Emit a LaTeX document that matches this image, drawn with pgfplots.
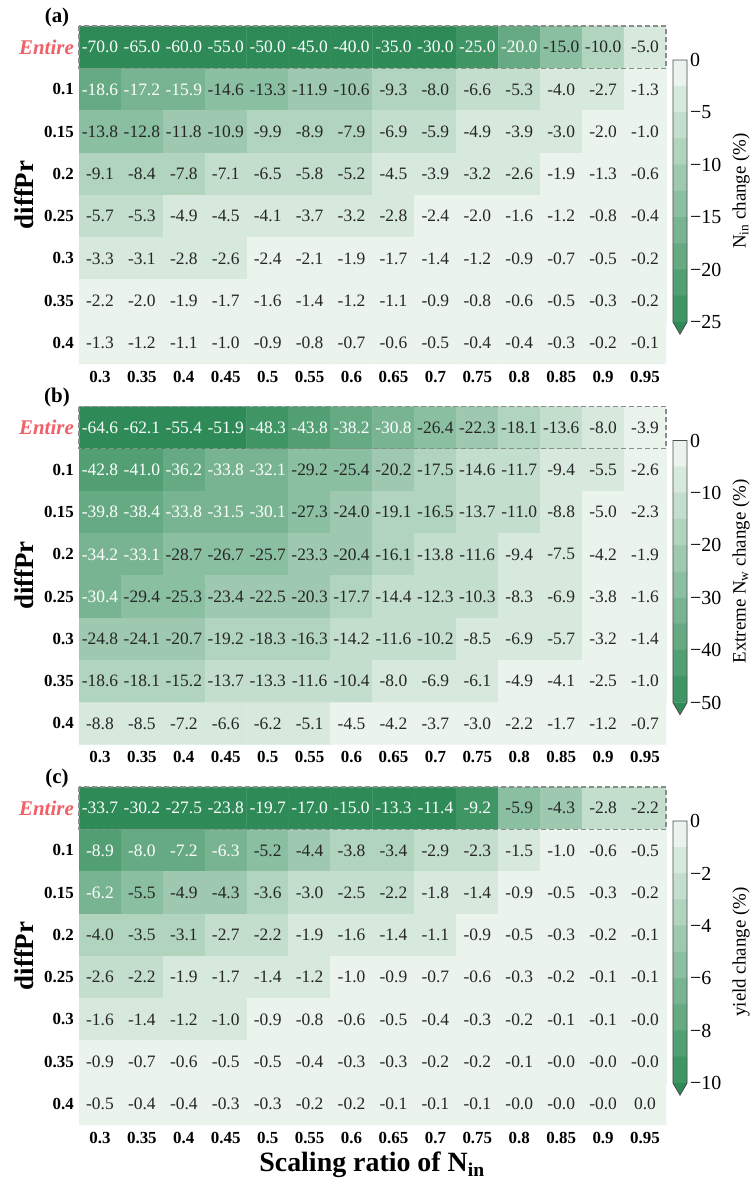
\documentclass[border=0pt]{standalone}
\usepackage{pgfplots}
\pgfplotsset{compat=1.18}
\usepackage{pgfplotstable}
\usepackage{fontspec}
\setmainfont{Liberation Serif}
\definecolor{sglight}{RGB}{234,243,236}
\definecolor{sgdark}{RGB}{46,139,87}
\definecolor{entire}{RGB}{240,96,104}
\definecolor{txtdark}{RGB}{38,38,38}
\newcommand\cellfont{\fontsize{17.5}{20}\selectfont}

% v = value as printed in the cell
\pgfplotstableread[row sep=\\]{
x y v\\
0 0 -70.0\\ 1 0 -65.0\\ 2 0 -60.0\\ 3 0 -55.0\\ 4 0 -50.0\\ 5 0 -45.0\\ 6 0 -40.0\\ 7 0 -35.0\\ 8 0 -30.0\\ 9 0 -25.0\\ 10 0 -20.0\\ 11 0 -15.0\\ 12 0 -10.0\\ 13 0 -5.0\\
0 1 -18.6\\ 1 1 -17.2\\ 2 1 -15.9\\ 3 1 -14.6\\ 4 1 -13.3\\ 5 1 -11.9\\ 6 1 -10.6\\ 7 1 -9.3\\ 8 1 -8.0\\ 9 1 -6.6\\ 10 1 -5.3\\ 11 1 -4.0\\ 12 1 -2.7\\ 13 1 -1.3\\
0 2 -13.8\\ 1 2 -12.8\\ 2 2 -11.8\\ 3 2 -10.9\\ 4 2 -9.9\\ 5 2 -8.9\\ 6 2 -7.9\\ 7 2 -6.9\\ 8 2 -5.9\\ 9 2 -4.9\\ 10 2 -3.9\\ 11 2 -3.0\\ 12 2 -2.0\\ 13 2 -1.0\\
0 3 -9.1\\ 1 3 -8.4\\ 2 3 -7.8\\ 3 3 -7.1\\ 4 3 -6.5\\ 5 3 -5.8\\ 6 3 -5.2\\ 7 3 -4.5\\ 8 3 -3.9\\ 9 3 -3.2\\ 10 3 -2.6\\ 11 3 -1.9\\ 12 3 -1.3\\ 13 3 -0.6\\
0 4 -5.7\\ 1 4 -5.3\\ 2 4 -4.9\\ 3 4 -4.5\\ 4 4 -4.1\\ 5 4 -3.7\\ 6 4 -3.2\\ 7 4 -2.8\\ 8 4 -2.4\\ 9 4 -2.0\\ 10 4 -1.6\\ 11 4 -1.2\\ 12 4 -0.8\\ 13 4 -0.4\\
0 5 -3.3\\ 1 5 -3.1\\ 2 5 -2.8\\ 3 5 -2.6\\ 4 5 -2.4\\ 5 5 -2.1\\ 6 5 -1.9\\ 7 5 -1.7\\ 8 5 -1.4\\ 9 5 -1.2\\ 10 5 -0.9\\ 11 5 -0.7\\ 12 5 -0.5\\ 13 5 -0.2\\
0 6 -2.2\\ 1 6 -2.0\\ 2 6 -1.9\\ 3 6 -1.7\\ 4 6 -1.6\\ 5 6 -1.4\\ 6 6 -1.2\\ 7 6 -1.1\\ 8 6 -0.9\\ 9 6 -0.8\\ 10 6 -0.6\\ 11 6 -0.5\\ 12 6 -0.3\\ 13 6 -0.2\\
0 7 -1.3\\ 1 7 -1.2\\ 2 7 -1.1\\ 3 7 -1.0\\ 4 7 -0.9\\ 5 7 -0.8\\ 6 7 -0.7\\ 7 7 -0.6\\ 8 7 -0.5\\ 9 7 -0.4\\ 10 7 -0.4\\ 11 7 -0.3\\ 12 7 -0.2\\ 13 7 -0.1\\
}\dataA

\pgfplotstableread[row sep=\\]{
x y v\\
0 0 -64.6\\ 1 0 -62.1\\ 2 0 -55.4\\ 3 0 -51.9\\ 4 0 -48.3\\ 5 0 -43.8\\ 6 0 -38.2\\ 7 0 -30.8\\ 8 0 -26.4\\ 9 0 -22.3\\ 10 0 -18.1\\ 11 0 -13.6\\ 12 0 -8.0\\ 13 0 -3.9\\
0 1 -42.8\\ 1 1 -41.0\\ 2 1 -36.2\\ 3 1 -33.8\\ 4 1 -32.1\\ 5 1 -29.2\\ 6 1 -25.4\\ 7 1 -20.2\\ 8 1 -17.5\\ 9 1 -14.6\\ 10 1 -11.7\\ 11 1 -9.4\\ 12 1 -5.5\\ 13 1 -2.6\\
0 2 -39.8\\ 1 2 -38.4\\ 2 2 -33.8\\ 3 2 -31.5\\ 4 2 -30.1\\ 5 2 -27.3\\ 6 2 -24.0\\ 7 2 -19.1\\ 8 2 -16.5\\ 9 2 -13.7\\ 10 2 -11.0\\ 11 2 -8.8\\ 12 2 -5.0\\ 13 2 -2.3\\
0 3 -34.2\\ 1 3 -33.1\\ 2 3 -28.7\\ 3 3 -26.7\\ 4 3 -25.7\\ 5 3 -23.3\\ 6 3 -20.4\\ 7 3 -16.1\\ 8 3 -13.8\\ 9 3 -11.6\\ 10 3 -9.4\\ 11 3 -7.5\\ 12 3 -4.2\\ 13 3 -1.9\\
0 4 -30.4\\ 1 4 -29.4\\ 2 4 -25.3\\ 3 4 -23.4\\ 4 4 -22.5\\ 5 4 -20.3\\ 6 4 -17.7\\ 7 4 -14.4\\ 8 4 -12.3\\ 9 4 -10.3\\ 10 4 -8.3\\ 11 4 -6.9\\ 12 4 -3.8\\ 13 4 -1.6\\
0 5 -24.8\\ 1 5 -24.1\\ 2 5 -20.7\\ 3 5 -19.2\\ 4 5 -18.3\\ 5 5 -16.3\\ 6 5 -14.2\\ 7 5 -11.6\\ 8 5 -10.2\\ 9 5 -8.5\\ 10 5 -6.9\\ 11 5 -5.7\\ 12 5 -3.2\\ 13 5 -1.4\\
0 6 -18.6\\ 1 6 -18.1\\ 2 6 -15.2\\ 3 6 -13.7\\ 4 6 -13.3\\ 5 6 -11.6\\ 6 6 -10.4\\ 7 6 -8.0\\ 8 6 -6.9\\ 9 6 -6.1\\ 10 6 -4.9\\ 11 6 -4.1\\ 12 6 -2.5\\ 13 6 -1.0\\
0 7 -8.8\\ 1 7 -8.5\\ 2 7 -7.2\\ 3 7 -6.6\\ 4 7 -6.2\\ 5 7 -5.1\\ 6 7 -4.5\\ 7 7 -4.2\\ 8 7 -3.7\\ 9 7 -3.0\\ 10 7 -2.2\\ 11 7 -1.7\\ 12 7 -1.2\\ 13 7 -0.7\\
}\dataB

% v = value as printed, c = value (differs only where rounding hides it)
\pgfplotstableread[row sep=\\]{
x y v c\\
0 0 -33.7 -33.7\\ 1 0 -30.2 -30.2\\ 2 0 -27.5 -27.5\\ 3 0 -23.8 -23.8\\ 4 0 -19.7 -19.7\\ 5 0 -17.0 -17.0\\ 6 0 -15.0 -15.0\\ 7 0 -13.3 -13.3\\ 8 0 -11.4 -11.4\\ 9 0 -9.2 -9.2\\ 10 0 -5.9 -5.9\\ 11 0 -4.3 -4.3\\ 12 0 -2.8 -2.8\\ 13 0 -2.2 -2.2\\
0 1 -8.9 -8.9\\ 1 1 -8.0 -8.0\\ 2 1 -7.2 -7.2\\ 3 1 -6.3 -6.3\\ 4 1 -5.2 -5.2\\ 5 1 -4.4 -4.4\\ 6 1 -3.8 -3.8\\ 7 1 -3.4 -3.4\\ 8 1 -2.9 -2.9\\ 9 1 -2.3 -2.3\\ 10 1 -1.5 -1.5\\ 11 1 -1.0 -1.0\\ 12 1 -0.6 -0.6\\ 13 1 -0.5 -0.5\\
0 2 -6.2 -6.2\\ 1 2 -5.5 -5.5\\ 2 2 -4.9 -4.9\\ 3 2 -4.3 -4.3\\ 4 2 -3.6 -3.6\\ 5 2 -3.0 -3.0\\ 6 2 -2.5 -2.5\\ 7 2 -2.2 -2.2\\ 8 2 -1.8 -1.8\\ 9 2 -1.4 -1.4\\ 10 2 -0.9 -0.9\\ 11 2 -0.5 -0.5\\ 12 2 -0.3 -0.3\\ 13 2 -0.2 -0.2\\
0 3 -4.0 -4.0\\ 1 3 -3.5 -3.5\\ 2 3 -3.1 -3.1\\ 3 3 -2.7 -2.7\\ 4 3 -2.2 -2.2\\ 5 3 -1.9 -1.9\\ 6 3 -1.6 -1.6\\ 7 3 -1.4 -1.4\\ 8 3 -1.1 -1.1\\ 9 3 -0.9 -0.9\\ 10 3 -0.5 -0.5\\ 11 3 -0.3 -0.3\\ 12 3 -0.2 -0.2\\ 13 3 -0.1 -0.1\\
0 4 -2.6 -2.6\\ 1 4 -2.2 -2.2\\ 2 4 -1.9 -1.9\\ 3 4 -1.7 -1.7\\ 4 4 -1.4 -1.4\\ 5 4 -1.2 -1.2\\ 6 4 -1.0 -1.0\\ 7 4 -0.9 -0.9\\ 8 4 -0.7 -0.7\\ 9 4 -0.6 -0.6\\ 10 4 -0.3 -0.3\\ 11 4 -0.2 -0.2\\ 12 4 -0.1 -0.1\\ 13 4 -0.1 -0.1\\
0 5 -1.6 -1.6\\ 1 5 -1.4 -1.4\\ 2 5 -1.2 -1.2\\ 3 5 -1.0 -1.02\\ 4 5 -0.9 -0.9\\ 5 5 -0.8 -0.8\\ 6 5 -0.6 -0.6\\ 7 5 -0.5 -0.5\\ 8 5 -0.4 -0.4\\ 9 5 -0.3 -0.3\\ 10 5 -0.2 -0.2\\ 11 5 -0.1 -0.1\\ 12 5 -0.1 -0.1\\ 13 5 -0.0 -0.0\\
0 6 -0.9 -0.9\\ 1 6 -0.7 -0.7\\ 2 6 -0.6 -0.6\\ 3 6 -0.5 -0.5\\ 4 6 -0.5 -0.5\\ 5 6 -0.4 -0.4\\ 6 6 -0.3 -0.3\\ 7 6 -0.3 -0.3\\ 8 6 -0.2 -0.2\\ 9 6 -0.2 -0.2\\ 10 6 -0.1 -0.1\\ 11 6 -0.0 -0.0\\ 12 6 -0.0 -0.0\\ 13 6 -0.0 -0.0\\
0 7 -0.5 -0.5\\ 1 7 -0.4 -0.4\\ 2 7 -0.4 -0.4\\ 3 7 -0.3 -0.3\\ 4 7 -0.3 -0.3\\ 5 7 -0.2 -0.2\\ 6 7 -0.2 -0.2\\ 7 7 -0.1 -0.1\\ 8 7 -0.1 -0.1\\ 9 7 -0.1 -0.1\\ 10 7 -0.0 -0.0\\ 11 7 -0.0 -0.0\\ 12 7 -0.0 -0.0\\ 13 7 0.0 0.0\\
}\dataC

\pgfplotsset{
  sgmap/.style={colormap={sg}{rgb255=(234,243,236) rgb255=(46,139,87)}, point meta min=0, point meta max=10},
  heat/.style={
    sgmap, scale only axis, width=587bp, height=338bp, anchor=south west,
    xmin=-0.5, xmax=13.5, ymin=-0.5, ymax=7.5, y dir=reverse,
    axis line style={draw=none}, major tick length=0pt, clip=false,
    xtick={0,...,13}, xticklabels={0.3,0.35,0.4,0.45,0.5,0.55,0.6,0.65,0.7,0.75,0.8,0.85,0.9,0.95},
    ytick={0,...,7},
    yticklabels={{\fontsize{21}{24}\selectfont\color{entire}\bfseries\itshape Entire},0.1,0.15,0.2,0.25,0.3,0.35,0.4},
    tick label style={font=\fontsize{17}{20}\selectfont\bfseries, inner sep=0pt},
    xticklabel style={anchor=north, yshift=-7bp},
    yticklabel style={anchor=east, xshift=-5bp},
  },
  cb/.style={
    sgmap, scale only axis, width=14bp, height=262bp, anchor=south west,
    xmin=0, xmax=1, clip=false, axis line style={draw=none}, xtick=\empty,
    major tick length=0pt, yticklabel pos=right,
    yticklabel style={font=\fontsize{20}{22}\selectfont, anchor=west, xshift=3bp, inner sep=0pt},
  },
}
% #1 table, #2 colour step, #3 column used for the colour band
\newcommand\heatplots[3]{%
  \addplot[matrix plot*, mesh/cols=14, point meta=explicit]
    table[x=x, y=y, meta expr={min(max(ceil(-1*(\thisrow{#3})/#2-0.001)-1,0),10)}] {#1};
  \addplot[draw=none, mark=none, point meta=explicit symbolic,
    nodes near coords={\pgfplotspointmeta}, nodes near coords align={center},
    every node near coord/.style={font=\cellfont, text=white, inner sep=0pt, anchor=center},
    restrict expr to domain={ceil(-1*(\thisrow{#3})/#2-0.001)-1}{6:1000}]
    table[x=x, y=y, meta=v] {#1};
  \addplot[draw=none, mark=none, point meta=explicit symbolic,
    nodes near coords={\pgfplotspointmeta}, nodes near coords align={center},
    every node near coord/.style={font=\cellfont, text=txtdark, inner sep=0pt, anchor=center},
    restrict expr to domain={ceil(-1*(\thisrow{#3})/#2-0.001)-1}{-1000:5.5}]
    table[x=x, y=y, meta=v] {#1};
  \draw[black!45, line width=1.3bp, dash pattern=on 5bp off 3bp] (axis cs:-0.5,-0.5) rectangle (axis cs:13.5,0.5);
}

\begin{document}
\begin{tikzpicture}
\useasboundingbox (0,0) rectangle (754bp,-1182bp);

% ---------- panel (a)
\begin{axis}[heat, at={(79bp,-364bp)}]
\heatplots{\dataA}{2.5}{v}
\end{axis}
\begin{axis}[cb, at={(673bp,-322bp)}, ymin=-25, ymax=0,
  ytick={0,-5,-10,-15,-20,-25}, yticklabels={0,−5,−10,−15,−20,−25}]
\addplot[matrix plot*, mesh/cols=2, point meta=explicit] table[row sep=\\, meta=j] {
x y j\\ 0.25 -1.25 0\\ 0.75 -1.25 0\\ 0.25 -3.75 1\\ 0.75 -3.75 1\\ 0.25 -6.25 2\\ 0.75 -6.25 2\\ 0.25 -8.75 3\\ 0.75 -8.75 3\\ 0.25 -11.25 4\\ 0.75 -11.25 4\\ 0.25 -13.75 5\\ 0.75 -13.75 5\\ 0.25 -16.25 6\\ 0.75 -16.25 6\\ 0.25 -18.75 7\\ 0.75 -18.75 7\\ 0.25 -21.25 8\\ 0.75 -21.25 8\\ 0.25 -23.75 9\\ 0.75 -23.75 9\\
};
\addplot[fill=sgdark, draw=none] coordinates {(0,-25) (1,-25) (0.5,-26.15)} -- cycle;
\draw[gray!60!black, line width=0.9bp] (axis cs:0,0) -- (axis cs:1,0) -- (axis cs:1,-25) -- (axis cs:0.5,-26.15) -- (axis cs:0,-25) -- cycle;
\end{axis}

% ---------- panel (b)
\begin{axis}[heat, at={(79bp,-744.5bp)}]
\heatplots{\dataB}{5}{v}
\end{axis}
\begin{axis}[cb, at={(673bp,-702.5bp)}, ymin=-50, ymax=0,
  ytick={0,-10,-20,-30,-40,-50}, yticklabels={0,−10,−20,−30,−40,−50}]
\addplot[matrix plot*, mesh/cols=2, point meta=explicit] table[row sep=\\, meta=j] {
x y j\\ 0.25 -2.5 0\\ 0.75 -2.5 0\\ 0.25 -7.5 1\\ 0.75 -7.5 1\\ 0.25 -12.5 2\\ 0.75 -12.5 2\\ 0.25 -17.5 3\\ 0.75 -17.5 3\\ 0.25 -22.5 4\\ 0.75 -22.5 4\\ 0.25 -27.5 5\\ 0.75 -27.5 5\\ 0.25 -32.5 6\\ 0.75 -32.5 6\\ 0.25 -37.5 7\\ 0.75 -37.5 7\\ 0.25 -42.5 8\\ 0.75 -42.5 8\\ 0.25 -47.5 9\\ 0.75 -47.5 9\\
};
\addplot[fill=sgdark, draw=none] coordinates {(0,-50) (1,-50) (0.5,-52.3)} -- cycle;
\draw[gray!60!black, line width=0.9bp] (axis cs:0,0) -- (axis cs:1,0) -- (axis cs:1,-50) -- (axis cs:0.5,-52.3) -- (axis cs:0,-50) -- cycle;
\end{axis}

% ---------- panel (c)
\begin{axis}[heat, at={(79bp,-1125bp)}]
\heatplots{\dataC}{1}{c}
\end{axis}
\begin{axis}[cb, at={(673bp,-1083bp)}, ymin=-10, ymax=0,
  ytick={0,-2,-4,-6,-8,-10}, yticklabels={0,−2,−4,−6,−8,−10}]
\addplot[matrix plot*, mesh/cols=2, point meta=explicit] table[row sep=\\, meta=j] {
x y j\\ 0.25 -0.5 0\\ 0.75 -0.5 0\\ 0.25 -1.5 1\\ 0.75 -1.5 1\\ 0.25 -2.5 2\\ 0.75 -2.5 2\\ 0.25 -3.5 3\\ 0.75 -3.5 3\\ 0.25 -4.5 4\\ 0.75 -4.5 4\\ 0.25 -5.5 5\\ 0.75 -5.5 5\\ 0.25 -6.5 6\\ 0.75 -6.5 6\\ 0.25 -7.5 7\\ 0.75 -7.5 7\\ 0.25 -8.5 8\\ 0.75 -8.5 8\\ 0.25 -9.5 9\\ 0.75 -9.5 9\\
};
\addplot[fill=sgdark, draw=none] coordinates {(0,-10) (1,-10) (0.5,-10.46)} -- cycle;
\draw[gray!60!black, line width=0.9bp] (axis cs:0,0) -- (axis cs:1,0) -- (axis cs:1,-10) -- (axis cs:0.5,-10.46) -- (axis cs:0,-10) -- cycle;
\end{axis}

% ---------- texts
\foreach \dy/\lt in {0/a, 380.5/b, 761/c} {
  \node[font=\fontsize{21}{24}\selectfont\bfseries] at (57bp,-17bp-\dy bp) {(\lt)};
  \node[font=\fontsize{27}{30}\selectfont\bfseries, rotate=90] at (24bp,-195bp-\dy bp) {diffPr};
}
\node[font=\fontsize{19}{22}\selectfont, rotate=90] at (741bp,-191bp) {N\textsubscript{in} change (\%)};
\node[font=\fontsize{19}{22}\selectfont, rotate=90] at (741bp,-571.5bp) {Extreme N\textsubscript{w} change (\%)};
\node[font=\fontsize{19}{22}\selectfont, rotate=90] at (741bp,-952bp) {yield change (\%)};
\node[font=\fontsize{28}{32}\selectfont\bfseries] at (372bp,-1165bp) {Scaling ratio of N\textsubscript{in}};
\end{tikzpicture}
\end{document}
